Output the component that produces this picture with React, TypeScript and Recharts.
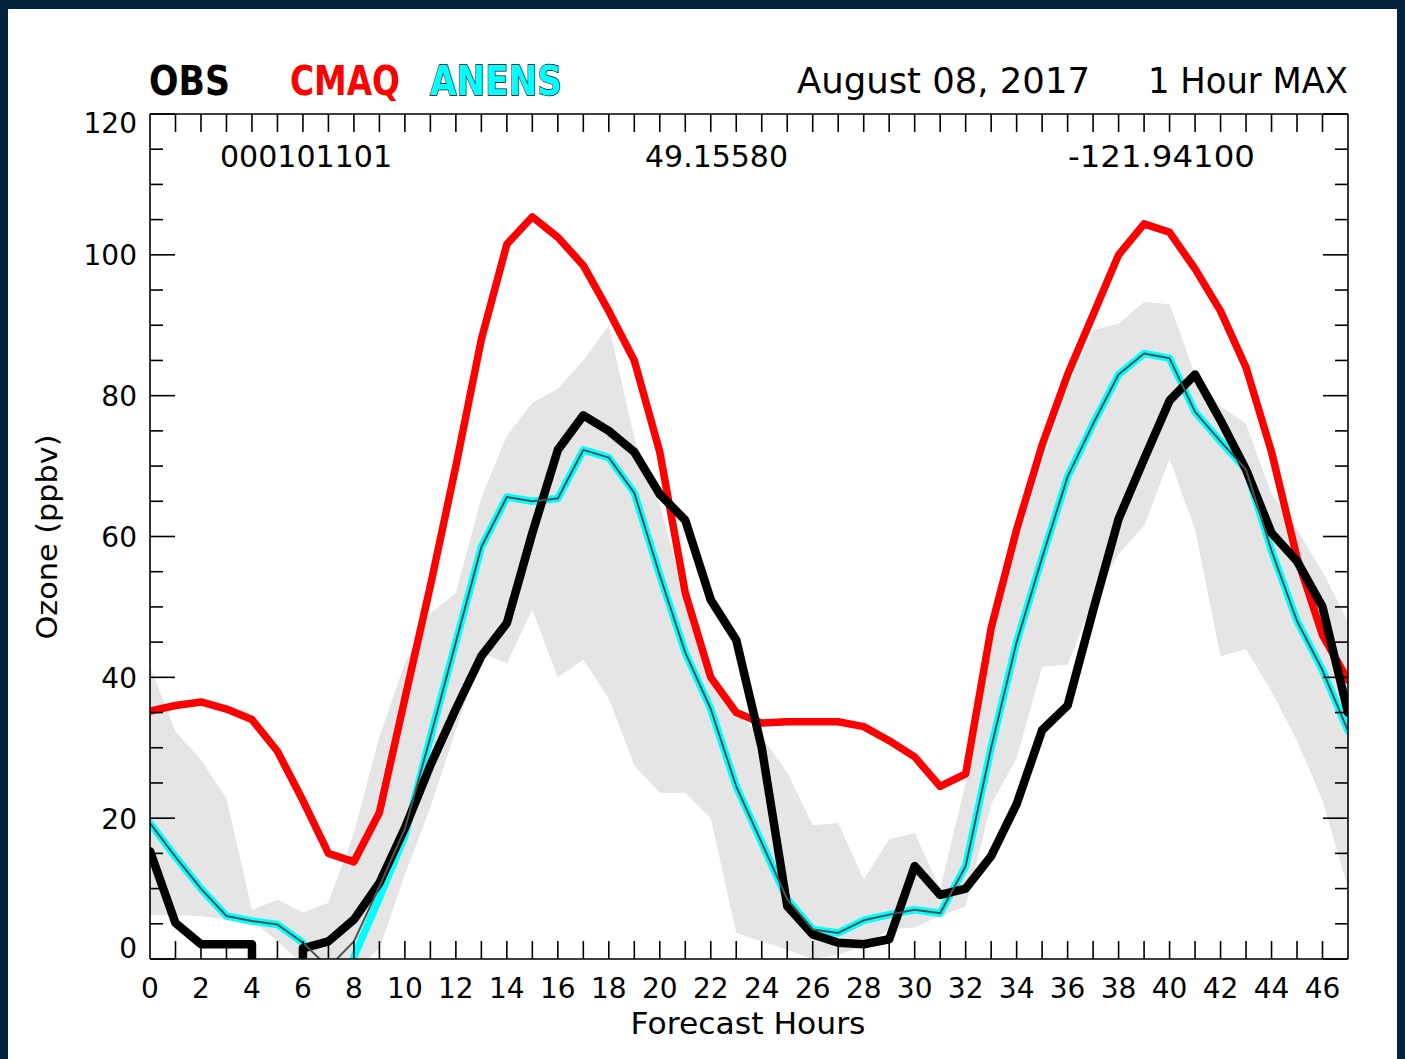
import React from 'react';
import { ComposedChart, Line, Area, XAxis, YAxis } from 'recharts';

// Missing observation / forecast hour (drawn by IDL as a plunge off the bottom of the plot)
const MISSING = -999;

const HOURS = [
  0, 1, 2, 3, 4, 5, 6, 7, 8, 9, 10, 11, 12, 13, 14, 15, 16, 17, 18, 19, 20, 21, 22, 23,
  24, 25, 26, 27, 28, 29, 30, 31, 32, 33, 34, 35, 36, 37, 38, 39, 40, 41, 42, 43, 44, 45, 46, 47,
];

const OBS = [
  15.3, 5.1, 2.1, 2.1, 2.1, MISSING, 1.5, 2.5, 5.6, 10.8, 18.6, 27.5, 35.5, 43.0, 47.7, 60.5,
  72.3, 77.2, 75.0, 72.0, 66.0, 62.3, 51.0, 45.3, 30.0, 7.5, 3.5, 2.3, 2.1, 2.8, 13.2, 9.1,
  10.0, 14.6, 22.0, 32.5, 36.0, 49.5, 62.5, 71.0, 79.3, 83.0, 76.5, 69.5, 60.5, 56.5, 50.0, 35.0,
];

const CMAQ = [
  35.2, 36.0, 36.5, 35.5, 34.0, 29.5, 22.5, 15.0, 13.8, 20.8, 37.0, 53.0, 70.0, 88.0, 101.5, 105.4,
  102.5, 98.5, 92.0, 85.0, 72.0, 52.0, 40.0, 35.0, 33.5, 33.7, 33.7, 33.7, 33.0, 31.0, 28.7, 24.5,
  26.3, 47.0, 61.0, 73.0, 83.0, 91.5, 100.0, 104.4, 103.2, 98.0, 92.0, 84.0, 72.0, 57.0, 46.0, 39.6,
];

const ANENS = [
  19.3, 14.5, 10.0, 6.1, 5.4, 4.9, 2.3, MISSING, 0.3, 8.7, 17.5, 31.5, 45.0, 58.5, 65.6, 65.0,
  65.4, 72.3, 71.2, 66.2, 54.5, 43.5, 35.5, 24.5, 16.5, 8.5, 4.2, 3.7, 5.5, 6.3, 7.0, 6.5,
  13.2, 30.0, 45.0, 57.0, 68.5, 76.0, 83.0, 86.0, 85.3, 77.7, 73.5, 69.5, 58.0, 48.0, 41.0, 32.4,
];

const ANENS_MEAN = [
  19.3, 14.5, 10.0, 6.1, 5.4, 4.9, 2.3, -1.2, 2.5, 10.3, 18.5, 31.5, 45.0, 58.5, 65.6, 65.0,
  65.4, 72.3, 71.2, 66.2, 54.5, 43.5, 35.5, 24.5, 16.5, 8.5, 4.2, 3.7, 5.5, 6.3, 7.0, 6.5,
  13.2, 30.0, 45.0, 57.0, 68.5, 76.0, 83.0, 86.0, 85.3, 77.7, 73.5, 69.5, 58.0, 48.0, 41.0, 32.4,
];

const RANGE_LOW = [
  6.3, 6.2, 6.1, 5.6, 5.5, 2.5, -0.7, -2.8, -1.8, 1.5, 12.0, 21.5, 32.5, 43.5, 42.0, 49.6,
  40.0, 42.5, 37.0, 27.5, 23.6, 23.6, 20.0, 3.7, 2.5, 1.3, 0.0, 0.6, 1.8, 4.2, 4.5, 6.1,
  7.5, 22.0, 28.5, 41.5, 41.8, 51.0, 57.5, 61.5, 71.0, 61.0, 43.0, 44.0, 38.0, 31.0, 22.5, 10.0,
];

const RANGE_HIGH = [
  41.5, 32.3, 28.3, 22.8, 7.0, 8.4, 6.6, 8.0, 17.9, 31.6, 42.0, 49.1, 52.0, 65.5, 74.3, 79.0,
  81.0, 85.0, 90.0, 74.0, 64.5, 51.0, 40.0, 35.0, 31.5, 26.5, 19.0, 19.3, 11.3, 17.0, 17.9, 10.0,
  25.0, 45.0, 59.0, 70.5, 81.0, 89.3, 90.2, 93.3, 93.0, 83.0, 78.5, 76.0, 66.0, 61.0, 55.0, 48.0,
];

const X_TICKS = HOURS;
const X_LABEL_HOURS = [0, 2, 4, 6, 8, 10, 12, 14, 16, 18, 20, 22, 24, 26, 28, 30, 32, 34, 36, 38, 40, 42, 44, 46];
const Y_TICKS = [0, 5, 10, 15, 20, 25, 30, 35, 40, 45, 50, 55, 60, 65, 70, 75, 80, 85, 90, 95, 100, 105, 110, 115, 120];
const Y_LABELS = [0, 20, 40, 60, 80, 100, 120];

const rows = HOURS.map((h, i) => ({
  hour: h,
  obs: OBS[i],
  cmaq: CMAQ[i],
  anens: ANENS[i],
  anensMean: ANENS_MEAN[i],
  range: [RANGE_LOW[i], RANGE_HIGH[i]],
}));

const FONT = '"DejaVu Sans", "Liberation Sans", sans-serif';
const TICK_COLOR = '#000';
const TICK_W = 1.6;
const MAJOR_LEN = 25;
const MINOR_LEN = 13;
const X_TICK_LEN = 18;

const LeftTick = (props: any) => {
  const { x, y, payload } = props;
  const v = payload.value;
  const major = Y_LABELS.includes(v);
  const len = major ? MAJOR_LEN : MINOR_LEN;
  let dy = 10.5;
  if (v === 0) dy = -1;
  if (v === 120) dy = 19;
  return (
    <g>
      <line x1={x} y1={y} x2={x + len} y2={y} stroke={TICK_COLOR} strokeWidth={TICK_W} />
      {major && (
        <text x={x - 13} y={y + dy} textAnchor="end" fontFamily={FONT} fontSize={28} fill="#000">
          {v}
        </text>
      )}
    </g>
  );
};

const RightTick = (props: any) => {
  const { x, y, payload } = props;
  const v = payload.value;
  const major = Y_LABELS.includes(v);
  const len = major ? MAJOR_LEN : MINOR_LEN;
  return <line x1={x} y1={y} x2={x - len} y2={y} stroke={TICK_COLOR} strokeWidth={TICK_W} />;
};

const BottomTick = (props: any) => {
  const { x, y, payload } = props;
  const v = payload.value;
  const showLine = v > 0 && v < 47;
  const showLabel = X_LABEL_HOURS.includes(v);
  return (
    <g>
      {showLine && <line x1={x} y1={y} x2={x} y2={y - X_TICK_LEN} stroke={TICK_COLOR} strokeWidth={TICK_W} />}
      {showLabel && (
        <text x={x} y={y + 39} textAnchor="middle" fontFamily={FONT} fontSize={28} fill="#000">
          {v}
        </text>
      )}
    </g>
  );
};

const TopTick = (props: any) => {
  const { x, y, payload } = props;
  const v = payload.value;
  if (!(v > 0 && v < 47)) return <g />;
  return <line x1={x} y1={y} x2={x} y2={y + X_TICK_LEN} stroke={TICK_COLOR} strokeWidth={TICK_W} />;
};

const W = 1405;
const H = 1059;

export default function App() {
  return (
    <div style={{ position: 'absolute', left: 0, top: 0, width: W, height: H, background: '#04233f', overflow: 'hidden' }}>
      <div style={{ position: 'absolute', left: 8, top: 9, width: W - 16, height: H - 9, background: '#ffffff' }} />
      <div style={{ position: 'absolute', left: 0, top: 0 }}>
        <ComposedChart
          width={W}
          height={H}
          data={rows}
          margin={{ top: 104, right: 47, bottom: 0, left: 0 }}
        >
          <XAxis
            xAxisId="bottom"
            dataKey="hour"
            type="number"
            domain={[0, 47]}
            ticks={X_TICKS}
            interval={0}
            allowDataOverflow
            height={100}
            tickSize={0}
            tickMargin={0}
            tickLine={false}
            axisLine={{ stroke: '#000', strokeWidth: TICK_W }}
            tick={<BottomTick />}
          />
          <XAxis
            xAxisId="top"
            orientation="top"
            dataKey="hour"
            type="number"
            domain={[0, 47]}
            ticks={X_TICKS}
            interval={0}
            allowDataOverflow
            height={10}
            tickSize={0}
            tickMargin={0}
            tickLine={false}
            axisLine={{ stroke: '#000', strokeWidth: TICK_W }}
            tick={<TopTick />}
          />
          <YAxis
            yAxisId="left"
            type="number"
            domain={[0, 120]}
            ticks={Y_TICKS}
            interval={0}
            allowDataOverflow
            width={150}
            tickSize={0}
            tickMargin={0}
            tickLine={false}
            axisLine={{ stroke: '#000', strokeWidth: TICK_W }}
            tick={<LeftTick />}
          />
          <YAxis
            yAxisId="right"
            orientation="right"
            type="number"
            domain={[0, 120]}
            ticks={Y_TICKS}
            interval={0}
            allowDataOverflow
            width={10}
            tickSize={0}
            tickMargin={0}
            tickLine={false}
            axisLine={{ stroke: '#000', strokeWidth: TICK_W }}
            tick={<RightTick />}
          />
          <Area
            xAxisId="bottom"
            yAxisId="left"
            dataKey="range"
            type="linear"
            stroke="none"
            fill="#e5e5e5"
            fillOpacity={1}
            isAnimationActive={false}
            activeDot={false}
          />
          <Line
            xAxisId="bottom"
            yAxisId="left"
            dataKey="cmaq"
            type="linear"
            stroke="#ff0000"
            strokeWidth={7.5}
            strokeLinejoin="round"
            strokeLinecap="round"
            dot={false}
            activeDot={false}
            isAnimationActive={false}
          />
          <Line
            xAxisId="bottom"
            yAxisId="left"
            dataKey="anens"
            type="linear"
            stroke="#00ffff"
            strokeWidth={7.5}
            strokeLinejoin="round"
            strokeLinecap="round"
            dot={false}
            activeDot={false}
            isAnimationActive={false}
          />
          <Line
            xAxisId="bottom"
            yAxisId="left"
            dataKey="obs"
            type="linear"
            stroke="#000000"
            strokeWidth={8.5}
            strokeLinejoin="round"
            strokeLinecap="round"
            dot={false}
            activeDot={false}
            isAnimationActive={false}
          />
          <Line
            xAxisId="bottom"
            yAxisId="left"
            dataKey="anensMean"
            type="linear"
            stroke="#505050"
            strokeWidth={2}
            strokeLinejoin="round"
            dot={false}
            activeDot={false}
            isAnimationActive={false}
          />
        </ComposedChart>
      </div>
      <svg
        width={W}
        height={H}
        style={{ position: 'absolute', left: 0, top: 0, pointerEvents: 'none' }}
      >
        <g fontFamily={FONT}>
          <text x={149} y={95} fontSize={40} fontWeight="bold" fill="#000" textLength={81} lengthAdjust="spacingAndGlyphs">
            OBS
          </text>
          <text x={290} y={95} fontSize={40} fontWeight="bold" fill="#ff0000" textLength={110} lengthAdjust="spacingAndGlyphs">
            CMAQ
          </text>
          <text
            x={430}
            y={95}
            fontSize={40}
            fontWeight="bold"
            fill="#00ffff"
            stroke="#000"
            strokeWidth={1.3}
            paintOrder="stroke"
            textLength={132}
            lengthAdjust="spacingAndGlyphs"
          >
            ANENS
          </text>
          <text x={797} y={93} fontSize={36} fill="#000" textLength={293} lengthAdjust="spacingAndGlyphs">
            August 08, 2017
          </text>
          <text x={1148} y={93} fontSize={36} fill="#000" textLength={200} lengthAdjust="spacingAndGlyphs">
            1 Hour MAX
          </text>
          <text x={220} y={167} fontSize={30} fill="#000" textLength={172} lengthAdjust="spacingAndGlyphs">
            000101101
          </text>
          <text x={645} y={167} fontSize={30} fill="#000" textLength={143} lengthAdjust="spacingAndGlyphs">
            49.15580
          </text>
          <text x={1068} y={167} fontSize={30} fill="#000" textLength={187} lengthAdjust="spacingAndGlyphs">
            -121.94100
          </text>
          <text x={748} y={1034} fontSize={31} fill="#000" textAnchor="middle" textLength={235} lengthAdjust="spacingAndGlyphs">
            Forecast Hours
          </text>
          <text
            x={0}
            y={0}
            transform="translate(57 537) rotate(-90)"
            fontSize={29}
            fill="#000"
            textAnchor="middle"
            textLength={205}
            lengthAdjust="spacingAndGlyphs"
          >
            Ozone (ppbv)
          </text>
        </g>
      </svg>
    </div>
  );
}
